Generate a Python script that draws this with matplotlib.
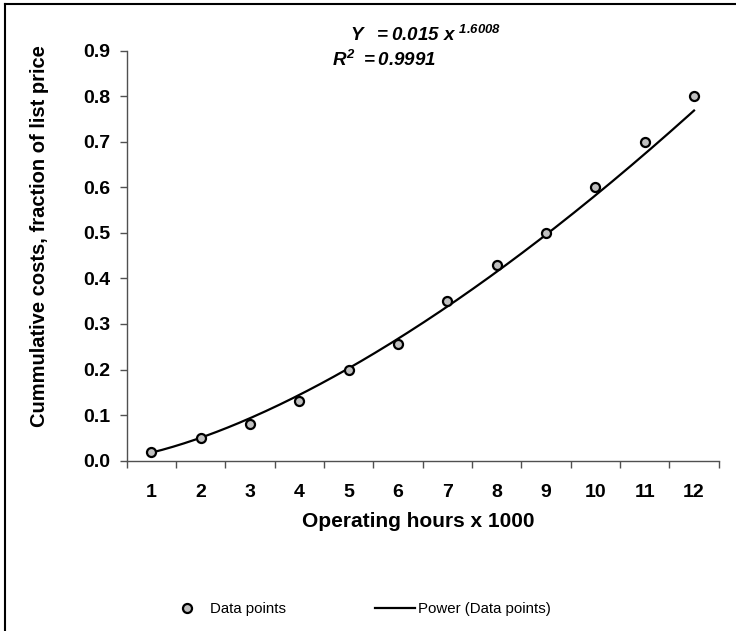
import numpy as np
import matplotlib.pyplot as plt
from matplotlib.lines import Line2D
from matplotlib.ticker import FixedLocator, NullFormatter

plt.rcParams['font.family'] = ['Liberation Sans', 'DejaVu Sans']
plt.rcParams['mathtext.fontset'] = 'custom'
plt.rcParams['mathtext.rm'] = 'Liberation Sans:italic:bold'
plt.rcParams['mathtext.it'] = 'Liberation Sans:italic:bold'
plt.rcParams['mathtext.bf'] = 'Liberation Sans:italic:bold'

# data
hours = np.arange(1, 13)
costs = [0.02, 0.05, 0.08, 0.13, 0.20, 0.255, 0.35, 0.43, 0.50, 0.60, 0.70, 0.80]
y_ticks = [0.0, 0.1, 0.2, 0.3, 0.4, 0.5, 0.6, 0.7, 0.8, 0.9]

# power trend line (least squares in log-log space, like Excel)
b, ln_a = np.polyfit(np.log(hours), np.log(costs), 1)
xs = np.linspace(1, 12, 200)
ys = np.exp(ln_a) * xs ** b

fig = plt.figure(figsize=(7.36, 6.31), dpi=100)
ax = fig.add_axes([0.172, 0.270, 0.8045, 0.6497])

ax.plot(xs, ys, color='black', lw=1.6, label='Power (Data points)', zorder=2)
ax.plot(hours, costs, 'o', ms=6.5, mfc='#c0c0c0', mec='black', mew=1.6,
        label='Data points', zorder=3)

ax.set_xlim(0.5, 12.5)
ax.set_ylim(0, 0.9)
for s in ['top', 'right']:
    ax.spines[s].set_visible(False)
for s in ['left', 'bottom']:
    ax.spines[s].set_color('#505050')
    ax.spines[s].set_linewidth(1.0)

ax.set_yticks(y_ticks)
ax.set_yticklabels(['%.1f' % v for v in y_ticks], fontsize=14, fontweight='bold')
ax.tick_params(axis='y', direction='out', length=5, width=1, color='#505050', pad=6.5)

ax.xaxis.set_major_locator(FixedLocator(np.arange(0.5, 13, 1)))
ax.xaxis.set_major_formatter(NullFormatter())
ax.xaxis.set_minor_locator(FixedLocator(hours))
ax.set_xticklabels([str(h) for h in hours], minor=True, fontsize=14, fontweight='bold')
ax.tick_params(axis='x', which='major', direction='out', length=5, width=1, color='#505050')
ax.tick_params(axis='x', which='minor', length=0, pad=17)

ax.set_xlabel('Operating hours x 1000', fontsize=15, fontweight='bold', va='center')
ax.xaxis.set_label_coords(0.493, -(522 - 460.7) / 410)
ax.set_ylabel('Cummulative costs, fraction of list price', fontsize=14.5,
              fontweight='bold', va='center')
ax.yaxis.set_label_coords(-(126.7 - 40) / 592, (460.7 - 236) / 410)

# trendline equation
fig.text(350 / 736, 1 - 35 / 631, r'$Y\ \ = 0.015\ x^{\ 1.6008}$', fontsize=13.5,
         ha='left', va='center')
fig.text(332 / 736, 1 - 60 / 631, r'$R^{2}\ = 0.9991$', fontsize=13.5,
         ha='left', va='center')

h, l = ax.get_legend_handles_labels()
fig.legend([h[1], h[0]], [l[1], l[0]], loc='center', bbox_to_anchor=(359 / 736, 1 - 609 / 631),
           ncol=2, frameon=False, fontsize=10.8, handlelength=2.7, handletextpad=0.2,
           columnspacing=5.9)

# outer frame (left and top edges visible)
fig.add_artist(Line2D([0.007, 0.007], [0, 0.994], color='black', lw=1.5,
                      transform=fig.transFigure))
fig.add_artist(Line2D([0.007, 1], [0.994, 0.994], color='black', lw=1.5,
                      transform=fig.transFigure))

fig.savefig('out.png', dpi=100)
